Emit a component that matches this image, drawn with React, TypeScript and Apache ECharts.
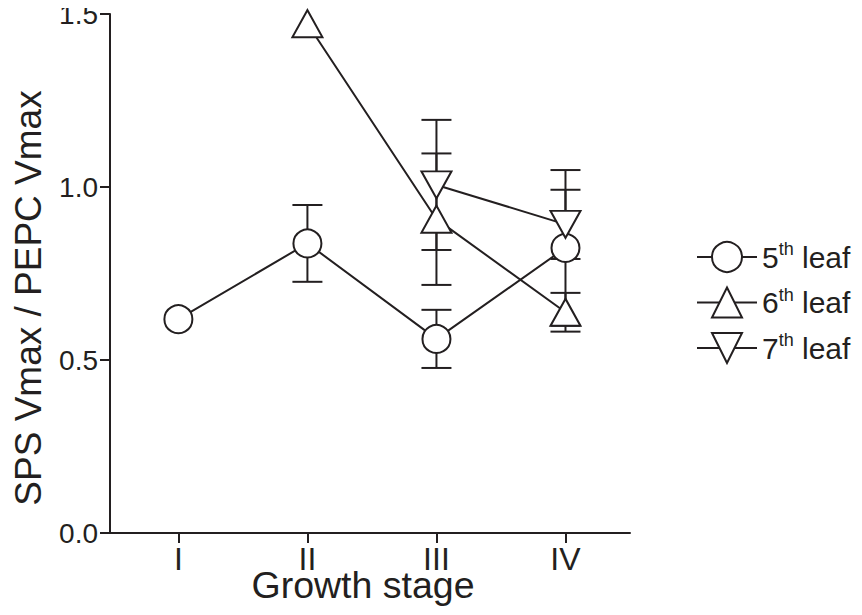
import React, { useEffect, useRef } from "react";
import * as echarts from "echarts";

const stages = ["I", "II", "III", "IV"];
const stageX = [1, 2, 3, 4];

// 5th leaf
const leaf5X = [1, 2, 3, 4];
const leaf5Mean = [0.618, 0.837, 0.561, 0.824];
const leaf5Err = [0, 0.111, 0.084, 0.225];
// 6th leaf
const leaf6X = [2, 3, 4];
const leaf6Mean = [1.472, 0.907, 0.638];
const leaf6Err = [0, 0.19, 0.056];
// 7th leaf
const leaf7X = [3, 4];
const leaf7Mean = [1.006, 0.892];
const leaf7Err = [0.188, 0.1];

const yTicks = [0, 0.5, 1.0, 1.5];

const xTitle = "Growth stage";
const yTitle = "SPS Vmax / PEPC Vmax";

const INK = "#231f20";
const FONT = "'Liberation Sans', Arial, Helvetica, sans-serif";

function pts(xs: number[], ys: number[]) {
  return xs.map((x, i) => [x, ys[i]]);
}
function errs(xs: number[], ys: number[], es: number[]) {
  return xs.map((x, i) => [x, ys[i] - es[i], ys[i] + es[i]]);
}

const errorRender = (_params: any, api: any) => {
  const x = api.value(0);
  if (api.value(2) - api.value(1) <= 0) return null;
  const lo = api.coord([x, api.value(1)]);
  const hi = api.coord([x, api.value(2)]);
  const cap = 15;
  const style = { stroke: INK, lineWidth: 2 };
  return {
    type: "group",
    children: [
      { type: "line", shape: { x1: lo[0], y1: lo[1], x2: hi[0], y2: hi[1] }, style },
      { type: "line", shape: { x1: lo[0] - cap, y1: lo[1], x2: lo[0] + cap, y2: lo[1] }, style },
      { type: "line", shape: { x1: hi[0] - cap, y1: hi[1], x2: hi[0] + cap, y2: hi[1] }, style },
    ],
  };
};

export default function App() {
  const ref = useRef<HTMLDivElement>(null);
  useEffect(() => {
    if (!ref.current) return;
    const chart = echarts.init(ref.current, null, { renderer: "svg" });
    const markerStyle = { color: "#ffffff", borderColor: INK, borderWidth: 2, opacity: 1 };
    const lineStyle = { color: INK, width: 2 };
    const legendNames: Record<string, string> = {
      "5th leaf": "{n|5}{s|th}{n| leaf}",
      "6th leaf": "{n|6}{s|th}{n| leaf}",
      "7th leaf": "{n|7}{s|th}{n| leaf}",
    };
    const option: any = {
      animation: false,
      backgroundColor: "#ffffff",
      textStyle: { fontFamily: FONT },
      grid: { left: 110, right: 232, top: 14, bottom: 82, containLabel: false, outerBoundsMode: "none" },
      graphic: [
        {
          type: "text",
          x: 363,
          y: 585,
          style: {
            text: xTitle,
            fill: INK,
            fontSize: 37.5,
            fontFamily: FONT,
            lineHeight: 28,
            align: "center",
            verticalAlign: "middle",
          },
        },
        {
          type: "text",
          x: 28,
          y: 298,
          rotation: Math.PI / 2,
          style: { text: yTitle, fill: INK, font: `37px ${FONT}`, align: "center", verticalAlign: "middle" },
        },
      ],
      xAxis: {
        type: "value",
        min: 0.47,
        max: 4.5,
        axisLine: { show: true, lineStyle: { color: INK, width: 2 } },
        axisTick: { show: true, length: 10, lineStyle: { color: INK, width: 2 }, customValues: stageX },
        axisLabel: {
          show: true,
          customValues: stageX,
          margin: 14,
          fontSize: 32,
          lineHeight: 24,
          color: INK,
          fontFamily: FONT,
          formatter: (v: number) => stages[Math.round(v) - 1] ?? "",
        },
        splitLine: { show: false },
      },
      yAxis: {
        type: "value",
        min: 0,
        max: 1.5,
        interval: 0.5,
        axisLine: { show: true, lineStyle: { color: INK, width: 2 } },
        axisTick: { show: true, length: 10, lineStyle: { color: INK, width: 2 }, customValues: yTicks },
        axisLabel: {
          margin: 12,
          fontSize: 28,
          color: INK,
          fontFamily: FONT,
          formatter: (v: number) => v.toFixed(1),
        },
        splitLine: { show: false },
      },
      legend: {
        orient: "vertical",
        left: 691,
        top: 235,
        itemWidth: 60,
        itemHeight: 37.5,
        itemGap: 12.5,
        symbolRotate: "inherit",
        data: ["5th leaf", "6th leaf", "7th leaf"],
        formatter: (name: string) => legendNames[name] ?? name,
        textStyle: {
          color: INK,
          fontFamily: FONT,
          fontSize: 30,
          rich: {
            n: { fontSize: 30, color: INK, fontFamily: FONT, lineHeight: 34 },
            s: { fontSize: 18, color: INK, fontFamily: FONT, lineHeight: 19, verticalAlign: "top" },
          },
        },
      },
      series: [
        { type: "custom", name: "err5", renderItem: errorRender, data: errs(leaf5X, leaf5Mean, leaf5Err), encode: { x: 0, y: [1, 2] }, z: 1, silent: true },
        { type: "custom", name: "err6", renderItem: errorRender, data: errs(leaf6X, leaf6Mean, leaf6Err), encode: { x: 0, y: [1, 2] }, z: 1, silent: true },
        { type: "custom", name: "err7", renderItem: errorRender, data: errs(leaf7X, leaf7Mean, leaf7Err), encode: { x: 0, y: [1, 2] }, z: 1, silent: true },
        {
          type: "line",
          name: "5th leaf",
          data: pts(leaf5X, leaf5Mean),
          symbol: "circle",
          symbolSize: 28,
          itemStyle: markerStyle,
          lineStyle,
          z: 3,
        },
        {
          type: "line",
          name: "6th leaf",
          data: pts(leaf6X, leaf6Mean),
          symbol: "triangle",
          symbolSize: [30, 27],
          itemStyle: markerStyle,
          lineStyle,
          z: 3,
        },
        {
          type: "line",
          name: "7th leaf",
          data: pts(leaf7X, leaf7Mean),
          symbol: "triangle",
          symbolRotate: 180,
          symbolSize: [30, 27],
          itemStyle: markerStyle,
          lineStyle,
          z: 3,
        },
      ],
    };
    chart.setOption(option);
    return () => chart.dispose();
  }, []);
  return <div ref={ref} style={{ width: 862, height: 615, margin: -8 }} />;
}
